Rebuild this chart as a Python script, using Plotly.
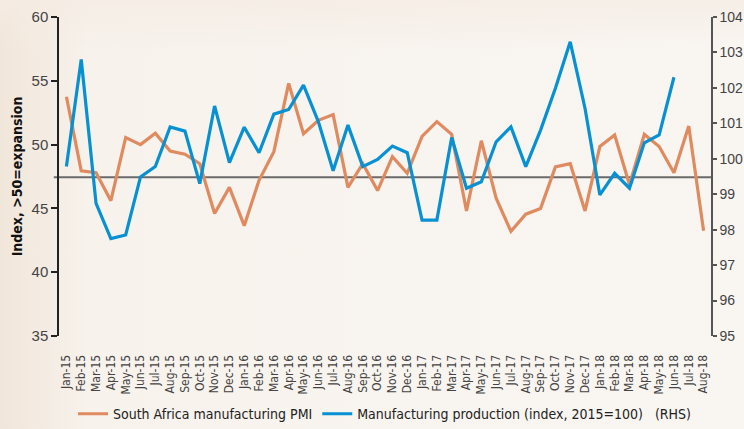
import base64
import plotly.graph_objects as go

months = ["Jan-15","Feb-15","Mar-15","Apr-15","May-15","Jun-15","Jul-15","Aug-15","Sep-15","Oct-15","Nov-15","Dec-15",
          "Jan-16","Feb-16","Mar-16","Apr-16","May-16","Jun-16","Jul-16","Aug-16","Sep-16","Oct-16","Nov-16","Dec-16",
          "Jan-17","Feb-17","Mar-17","Apr-17","May-17","Jun-17","Jul-17","Aug-17","Sep-17","Oct-17","Nov-17","Dec-17",
          "Jan-18","Feb-18","Mar-18","Apr-18","May-18","Jun-18","Jul-18","Aug-18"]

pmi = [53.75, 47.95, 47.8, 45.6, 50.55, 50.0, 50.9, 49.5, 49.25, 48.5, 44.6, 46.65,
       43.65, 47.2, 49.45, 54.8, 50.85, 51.9, 52.35, 46.65, 48.5, 46.4, 49.05, 47.75,
       50.65, 51.8, 50.8, 44.8, 50.3, 45.8, 43.2, 44.55, 45.0, 48.25, 48.5, 44.8,
       49.85, 50.75, 46.85, 50.8, 49.85, 47.8, 51.45, 43.25]

production = [99.78, 102.8, 98.74, 97.75, 97.85, 99.49, 99.78, 100.9, 100.78, 99.3, 101.49, 99.89,
              100.89, 100.17, 101.26, 101.39, 102.08, 101.05, 99.66, 100.95, 99.78, 99.98, 100.36, 100.17,
              98.27, 98.27, 100.6, 99.17, 99.35, 100.48, 100.9, 99.78, 100.81, 101.99, 103.3, 101.42,
              98.98, 99.59, 99.17, 100.45, 100.67, 102.3, None, None]

reference_level = 47.45

FONT = "Liberation Sans Narrow, DejaVu Sans Condensed, Arial Narrow, sans-serif"
TICKFONT = "Liberation Sans, Arial, sans-serif"
ORANGE = "#DF8A5F"
BLUE = "#0791D3"

W, H = 744, 429
ML, MR, MT, MB = 59, 33, 17, 93
PW, PH = W - ML - MR, H - MT - MB

svg = ('<svg xmlns="http://www.w3.org/2000/svg" width="744" height="429">'
       '<defs><linearGradient id="g" x1="0" y1="0" x2="1" y2="0">'
       '<stop offset="0" stop-color="#F1E6DA"/><stop offset="0.12" stop-color="#F7F2EC"/>'
       '<stop offset="1" stop-color="#F9F6F2"/></linearGradient>'
       '<linearGradient id="t" x1="0" y1="0" x2="0" y2="1">'
       '<stop offset="0" stop-color="#F5ECE4" stop-opacity="0.8"/><stop offset="0.12" stop-color="#F5ECE4" stop-opacity="0"/>'
       '</linearGradient></defs>'
       '<rect width="744" height="429" fill="url(#g)"/><rect width="744" height="429" fill="url(#t)"/></svg>')
bg_src = "data:image/svg+xml;base64," + base64.b64encode(svg.encode()).decode()

fig = go.Figure()
fig.add_trace(go.Scatter(x=months, y=pmi, mode="lines", name="South Africa manufacturing PMI",
                         line=dict(color=ORANGE, width=3.2), yaxis="y"))
fig.add_trace(go.Scatter(x=months, y=production, mode="lines",
                         name="Manufacturing production (index, 2015=100)&nbsp;&nbsp;&nbsp;(RHS)",
                         line=dict(color=BLUE, width=3.2), yaxis="y2", connectgaps=False))

fig.add_shape(type="line", xref="paper", yref="y", x0=-0.008, x1=1, y0=reference_level, y1=reference_level,
              line=dict(color="#6a6a6a", width=2), layer="below")

fig.add_layout_image(source=bg_src, xref="paper", yref="paper", x=-ML / PW, y=1 + MT / PH,
                     sizex=W / PW, sizey=H / PH, sizing="stretch", xanchor="left", yanchor="top",
                     layer="below")

fig.update_layout(
    width=W, height=H,
    margin=dict(l=ML, r=MR, t=MT, b=MB, autoexpand=False),
    paper_bgcolor="#F8F5F0", plot_bgcolor="rgba(0,0,0,0)",
    font=dict(family=FONT, color="#3a3a3a"),
    showlegend=True,
    legend=dict(orientation="h", x=0.5, xanchor="center", y=-0.245, yanchor="middle",
                font=dict(size=14, color="#222"), itemwidth=30, bgcolor="rgba(0,0,0,0)"),
    xaxis=dict(type="category", range=[-0.5, 43.5], showgrid=False, zeroline=False, showline=False,
               tickmode="array", tickvals=months, ticktext=months,
               tickangle=-90, tickfont=dict(size=12, color="#444"), ticks="outside", ticklen=13,
               tickcolor="rgba(0,0,0,0)", automargin=False),
    yaxis=dict(range=[35, 60], dtick=5, showgrid=False, zeroline=False, showline=True, linecolor="#222",
               linewidth=1.5, ticks="outside", ticklen=6, tickcolor="#222", tickwidth=1.5,
               tickfont=dict(family=TICKFONT, size=15, color="#444"), automargin=False,
               title=dict(text="<b>Index, >50=expansion</b>", font=dict(size=14, color="#111"), standoff=6)),
    yaxis2=dict(range=[95, 104], dtick=1, overlaying="y", side="right", showgrid=False, zeroline=False,
                showline=True, linecolor="#555", linewidth=1.5, ticks="outside", ticklen=4,
                tickcolor="#555", tickwidth=1.5, tickfont=dict(family=TICKFONT, size=14, color="#444"),
                automargin=False),
)

fig.write_html("out.html", config={"displayModeBar": False},
               post_script="document.body.style.margin='0';document.body.style.padding='0';")
